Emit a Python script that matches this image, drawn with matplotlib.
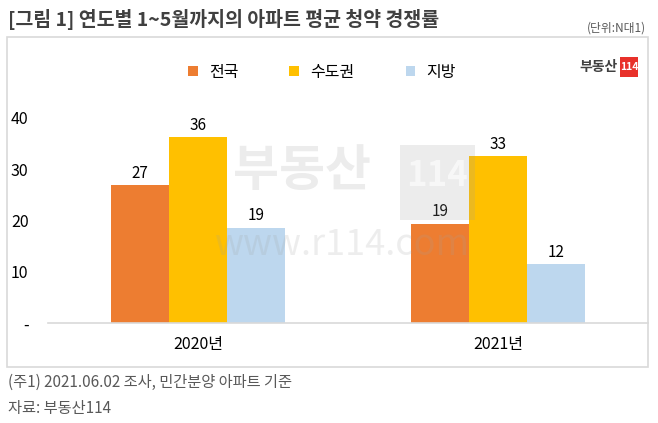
import matplotlib.pyplot as plt
from matplotlib.patches import Rectangle
import numpy as np

plt.rcParams['font.family'] = ['Noto Sans CJK KR', 'DejaVu Sans']

years = ["2020년", "2021년"]
series = ["전국", "수도권", "지방"]
nation = [26.9, 19.4]
capital = [36.2, 32.6]
local = [18.6, 11.5]
colors = ["#ed7d31", "#ffc000", "#bdd7ee"]
yticks = [0, 10, 20, 30, 40]
ytick_labels = ["-", "10", "20", "30", "40"]

W, H = 658, 423
fig = plt.figure(figsize=(W / 100, H / 100), dpi=100)

def fx(px):
    return px / W

def fy(py):
    return 1 - py / H

# outer chart box
fig.patches.append(Rectangle((fx(7), fy(367)), fx(648) - fx(7), fy(37) - fy(367),
                             transform=fig.transFigure, fill=False,
                             edgecolor="#d9d9d9", linewidth=1.2))

# axes: x from 48 to 648 px, zero at y=323, 10 units = 51.25 px
ymax = 45
top_px = 323 - ymax * 5.125
ax = fig.add_axes([fx(48), fy(323), fx(648) - fx(48), fy(top_px) - fy(323)])

x = np.arange(len(years))
w = 58 / 300
for i, (vals, name) in enumerate(zip([nation, capital, local], series)):
    bars = ax.bar(x + (i - 1) * w, vals, w, color=colors[i], label=name, zorder=2)
    for b, v in zip(bars, vals):
        ax.text(b.get_x() + b.get_width() / 2, v + 2.3, f"{v:.0f}", ha="center",
                va="center", fontsize=11, color="#000000", zorder=3)

# watermark (semi-transparent, on top of bars)
wm_col = "#a0a0a0"
fig.text(fx(302), fy(172), "부동산", fontsize=36, fontweight="bold",
         color=wm_col, alpha=0.2, ha="center", va="center", zorder=5)
fig.patches.append(Rectangle((fx(400), fy(220)), fx(475) - fx(400), fy(145) - fy(220),
                             transform=fig.transFigure, facecolor=wm_col, alpha=0.2,
                             edgecolor="none", zorder=5))
fig.text(fx(437), fy(176), "114", fontsize=25, fontweight="bold", color="white",
         alpha=0.6, ha="center", va="center", zorder=6)
fig.text(fx(342), fy(245), "www.r114.com", fontsize=26, color=wm_col, alpha=0.18,
         ha="center", va="center", zorder=5)

ax.set_xlim(-0.5, 1.5)
ax.set_ylim(0, ymax)
ax.set_xticks(x)
ax.set_xticklabels(years, fontsize=11.5)
ax.set_yticks(yticks)
ax.set_yticklabels(ytick_labels, fontsize=11.5)
ax.tick_params(length=0, pad=9)
ax.tick_params(axis="y", pad=14)
for s in ["top", "right", "left"]:
    ax.spines[s].set_visible(False)
ax.spines["bottom"].set_color("#d9d9d9")
ax.spines["bottom"].set_linewidth(1.2)
ax.set_facecolor("none")

leg = fig.legend(loc="center", bbox_to_anchor=(fx(322), fy(72)), ncol=3, frameon=False,
                 fontsize=11.5, handlelength=0.6, handleheight=0.6, columnspacing=3.2,
                 handletextpad=0.7)

fig.text(fx(8), fy(20), "[그림 1] 연도별 1~5월까지의 아파트 평균 청약 경쟁률", fontsize=14,
         fontweight="bold", color="#404040", va="center", ha="left")
fig.text(fx(646), fy(28), "(단위:N대1)", fontsize=8.5, color="#595959", va="center", ha="right")

# logo
fig.text(fx(618), fy(67), "부동산", fontsize=10, fontweight="bold", color="#404040",
         va="center", ha="right")
fig.patches.append(Rectangle((fx(620), fy(77)), fx(638) - fx(620), fy(57) - fy(77),
                             transform=fig.transFigure, facecolor="#e8312a", edgecolor="none"))
fig.text(fx(629), fy(67), "114", fontsize=7.5, fontweight="bold", color="white",
         va="center", ha="center")

fig.text(fx(8), fy(382), "(주1) 2021.06.02 조사, 민간분양 아파트 기준", fontsize=11,
         color="#595959", va="center", ha="left")
fig.text(fx(8), fy(408), "자료: 부동산114", fontsize=11, color="#595959", va="center", ha="left")

fig.savefig("out.png", dpi=100)
